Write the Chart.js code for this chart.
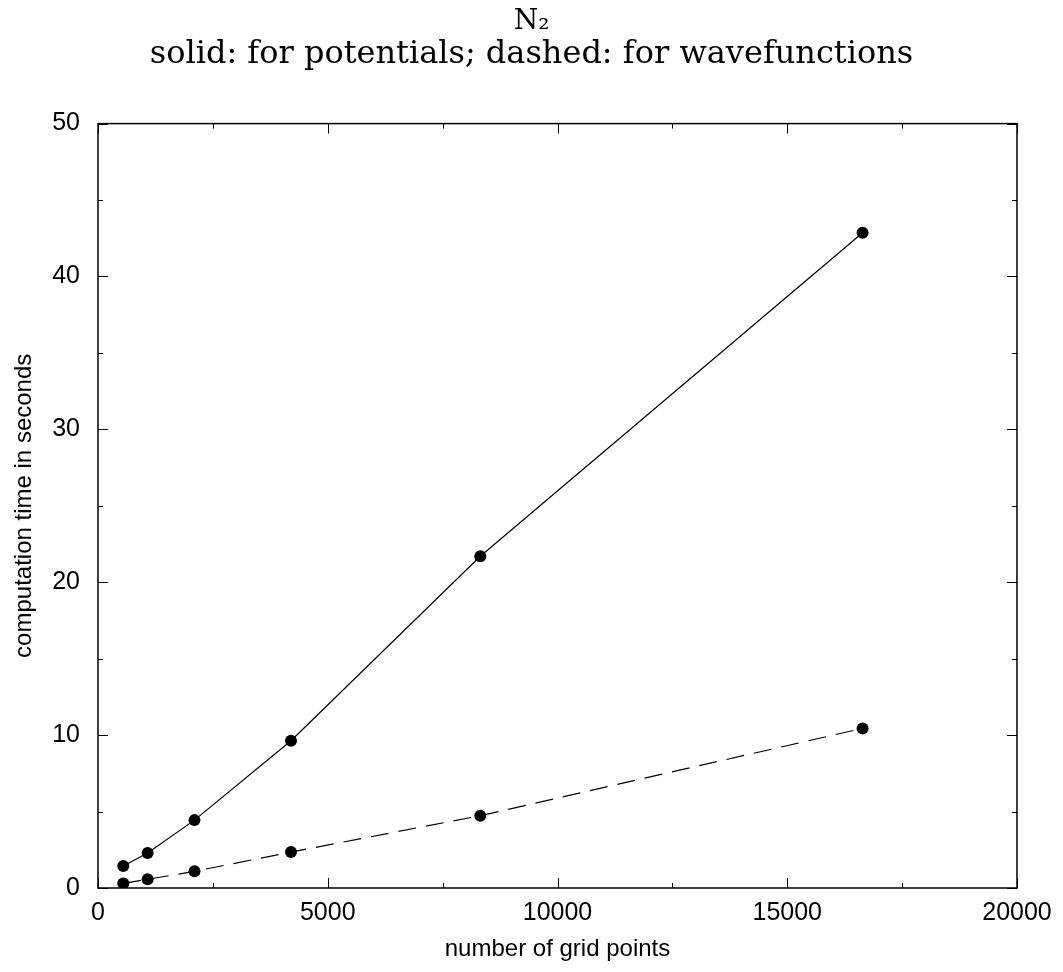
<!DOCTYPE html>
<html>
<head>
<meta charset="utf-8">
<script src="https://cdn.jsdelivr.net/npm/chart.js@4.4.1/dist/chart.umd.min.js"></script>
<style>
  html, body { margin: 0; padding: 0; background: #fff; }
  #wrap { width: 1063px; height: 972px; }
</style>
</head>
<body>
<div id="wrap"><canvas id="timingChart"></canvas></div>
<script>
// values
const gridPoints = [550, 1080, 2100, 4200, 8320, 16640];
const potentialTimes = [1.44, 2.29, 4.44, 9.63, 21.7, 42.86];
const wavefunctionTimes = [0.3, 0.57, 1.09, 2.35, 4.73, 10.44];

const xMajorTicks = [0, 5000, 10000, 15000, 20000];
const xMinorTicks = [2500, 7500, 12500, 17500];
const yMajorTicks = [0, 10, 20, 30, 40, 50];
const yMinorTicks = [5, 15, 25, 35, 45];

const sans = "'Liberation Sans', Arial, sans-serif";
const serif = "'DejaVu Serif', 'Liberation Serif', serif";

function toPoints(xs, ys) {
  return xs.map((x, i) => ({ x: x, y: ys[i] }));
}

// gnuplot style frame with inward ticks on all four sides
const frameTicks = {
  id: 'frameTicks',
  afterDatasetsDraw(chart) {
    const { ctx, chartArea: a, scales: { x, y } } = chart;
    ctx.save();
    ctx.strokeStyle = '#000';
    ctx.lineWidth = 1;
    ctx.beginPath();
    const xt = (list, len) => list.forEach(v => {
      const px = Math.round(x.getPixelForValue(v)) + 0.5;
      ctx.moveTo(px, a.bottom); ctx.lineTo(px, a.bottom - len);
      ctx.moveTo(px, a.top); ctx.lineTo(px, a.top + len);
    });
    const yt = (list, len) => list.forEach(v => {
      const py = Math.round(y.getPixelForValue(v)) + 0.5;
      ctx.moveTo(a.left, py); ctx.lineTo(a.left + len, py);
      ctx.moveTo(a.right, py); ctx.lineTo(a.right - len, py);
    });
    xt(xMajorTicks, 10); xt(xMinorTicks, 5);
    yt(yMajorTicks, 10); yt(yMinorTicks, 5);
    ctx.stroke();
    ctx.lineWidth = 1.5;
    ctx.strokeRect(a.left, a.top, a.right - a.left, a.bottom - a.top);
    ctx.restore();
  }
};

new Chart(document.getElementById('timingChart'), {
  type: 'scatter',
  data: {
    datasets: [
      {
        label: 'potentials',
        data: toPoints(gridPoints, potentialTimes),
        showLine: true,
        borderColor: '#000',
        backgroundColor: '#000',
        borderWidth: 1.2,
        pointRadius: 6,
        pointBorderWidth: 0,
        pointBackgroundColor: '#000',
      },
      {
        label: 'wavefunctions',
        data: toPoints(gridPoints, wavefunctionTimes),
        showLine: true,
        borderColor: '#000',
        backgroundColor: '#000',
        borderWidth: 1.2,
        borderDash: [18, 10],
        pointRadius: 6,
        pointBorderWidth: 0,
        pointBackgroundColor: '#000',
      }
    ]
  },
  options: {
    responsive: true,
    maintainAspectRatio: false,
    animation: false,
    layout: { padding: 0 },
    plugins: {
      legend: { display: false },
      tooltip: { enabled: false },
      title: {
        display: true,
        text: 'N₂',
        color: '#000',
        font: { family: serif, size: 28, weight: 'normal', lineHeight: 1.2 },
        padding: { top: 5, bottom: 0 },
      },
      subtitle: {
        display: true,
        text: 'solid: for potentials; dashed: for wavefunctions',
        color: '#000',
        font: { family: serif, size: 32, weight: 'normal', lineHeight: 1.0 },
        padding: { top: 0, bottom: 53 },
      }
    },
    scales: {
      x: {
        type: 'linear',
        min: 0,
        max: 20000,
        afterFit: s => { s.height = 84; s.paddingRight = 46; },
        grid: { display: false, drawTicks: false },
        border: { display: false },
        ticks: {
          stepSize: 5000,
          color: '#000',
          padding: 10,
          maxRotation: 0,
          font: { family: sans, size: 25 },
          callback: v => String(v),
        },
        title: {
          display: true,
          text: 'number of grid points',
          color: '#000',
          font: { family: sans, size: 24 },
          padding: { top: 0, bottom: 8 },
        }
      },
      y: {
        type: 'linear',
        min: 0,
        max: 50,
        afterFit: s => { s.width = 98; },
        grid: { display: false, drawTicks: false },
        border: { display: false },
        ticks: {
          stepSize: 10,
          color: '#000',
          padding: 18,
          font: { family: sans, size: 25 },
          callback: v => String(v),
        },
        title: {
          display: true,
          text: 'computation time in seconds',
          color: '#000',
          font: { family: sans, size: 24 },
          padding: { top: 10, bottom: 0 },
        }
      }
    }
  },
  plugins: [frameTicks]
});
</script>
</body>
</html>
